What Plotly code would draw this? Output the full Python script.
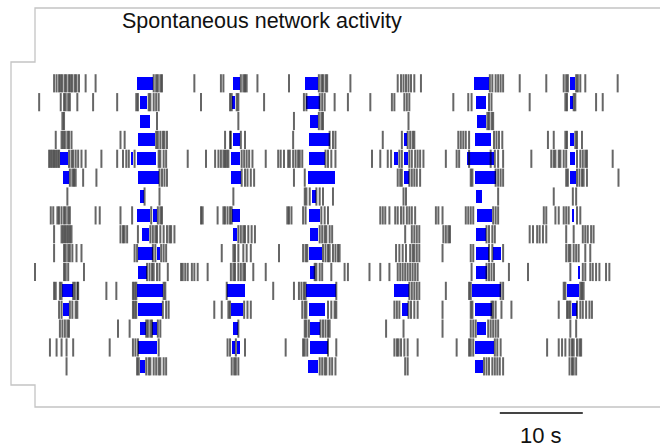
import plotly.graph_objects as go

# ---- spike times (s), one list per recorded cell, top row first ----
cell01_spikes = [2.3, 2.6, 2.9, 3.1, 3.3, 3.6, 3.8, 4.1, 4.3, 4.5, 4.8, 5.0, 5.3, 6.1, 7.3, 14.3, 14.6, 14.8, 15.1, 15.3,
                 19.2, 22.4, 22.7, 24.8, 25.1, 25.3, 25.5, 26.8, 30.6, 34.2, 34.5, 34.7, 35.0, 35.2, 38.0, 43.7, 44.1,
                 44.4, 44.7, 45.0, 45.3, 45.7, 46.5, 54.8, 55.1, 55.5, 55.8, 56.1, 56.4, 58.4, 61.6, 63.7, 64.0, 64.2,
                 65.2, 65.4, 65.7, 66.3, 70.2]
cell02_spikes = [0.5, 3.1, 3.5, 3.7, 4.0, 4.2, 5.1, 7.0, 9.9, 12.2, 12.4, 13.7, 13.9, 14.3, 14.6, 14.9, 20.0, 23.5, 23.7,
                 24.3, 24.5, 27.6, 32.4, 32.7, 34.3, 34.6, 34.9, 36.1, 37.7, 40.4, 43.0, 43.3, 44.5, 44.8, 45.1, 50.4,
                 52.2, 52.6, 54.7, 55.0, 59.6, 63.9, 64.1, 64.9, 65.1, 67.6, 68.4]
cell03_spikes = [3.3, 3.5, 14.7, 24.5, 31.2, 34.2, 34.5, 34.7, 45.0, 54.5, 54.7, 55.0, 55.2]
cell04_spikes = [2.5, 3.2, 3.4, 3.6, 3.9, 4.1, 4.4, 10.3, 10.8, 14.6, 14.8, 15.1, 15.4, 15.6, 15.9, 22.9, 23.5, 23.6,
                 24.8, 25.3, 31.1, 35.5, 35.9, 36.2, 41.9, 44.2, 44.9, 45.2, 45.5, 45.7, 51.0, 51.3, 51.6, 51.9, 52.3,
                 55.3, 55.6, 55.9, 56.3, 61.8, 62.5, 63.9, 64.1, 65.1, 65.3, 65.9]
cell05_spikes = [1.7, 1.9, 2.1, 2.3, 2.5, 2.7, 2.9, 4.1, 4.4, 4.6, 4.9, 5.2, 5.6, 6.1, 8.0, 9.9, 10.6, 11.0, 11.3, 12.0,
                 14.9, 15.1, 15.5, 15.8, 18.4, 20.6, 21.7, 22.1, 22.4, 22.7, 22.9, 23.1, 23.3, 24.9, 25.2, 25.5, 25.8,
                 26.2, 27.8, 29.3, 29.6, 30.0, 30.5, 30.7, 31.1, 31.4, 31.7, 31.9, 32.2, 35.0, 35.3, 35.7, 36.2, 40.6,
                 41.6, 42.5, 42.9, 43.9, 44.2, 45.1, 45.4, 45.8, 46.1, 46.4, 46.8, 49.5, 50.8, 51.1, 52.3, 54.9, 55.4,
                 55.8, 56.4, 59.8, 62.2, 62.5, 62.7, 63.1, 63.3, 63.7, 64.0, 65.3, 65.7, 66.0, 66.3, 66.5, 69.6]
cell06_spikes = [4.2, 4.5, 4.7, 4.9, 5.8, 7.4, 15.0, 15.3, 15.6, 15.9, 24.9, 25.3, 25.6, 26.0, 26.4, 31.2, 32.5, 43.7,
                 44.0, 44.2, 45.1, 45.4, 45.7, 46.0, 46.4, 52.5, 52.7, 55.5, 55.8, 56.1, 56.4, 64.0, 64.2, 65.3, 65.6,
                 65.9, 66.1, 66.5, 70.3]
cell07_spikes = [3.9, 13.2, 15.0, 23.9, 32.5, 32.7, 33.1, 33.9, 34.3, 34.7, 35.9, 44.4, 44.7, 55.8, 62.5, 64.8, 65.2]
cell08_spikes = [1.9, 2.2, 2.7, 2.9, 3.2, 3.5, 3.7, 4.0, 4.2, 7.3, 7.8, 10.3, 11.7, 14.0, 14.8, 15.1, 15.3, 20.0, 20.2,
                 22.0, 22.7, 22.9, 23.2, 23.5, 23.7, 30.4, 30.6, 30.9, 32.3, 32.6, 34.5, 34.9, 35.3, 41.6, 41.9, 42.2,
                 42.7, 43.4, 43.7, 44.1, 44.4, 44.8, 45.1, 45.4, 45.8, 48.3, 48.6, 49.1, 51.9, 52.2, 52.5, 52.8, 55.2,
                 55.5, 55.8, 61.3, 61.6, 62.7, 63.1, 63.7, 64.0, 64.3, 65.3, 65.7]
cell09_spikes = [2.3, 3.2, 3.4, 3.6, 3.8, 4.0, 4.2, 4.4, 10.3, 10.6, 10.8, 11.1, 12.4, 13.9, 14.2, 14.5, 14.7, 15.1,
                 15.5, 15.9, 16.2, 16.4, 16.8, 24.5, 24.8, 25.1, 25.3, 25.7, 26.1, 26.5, 34.3, 34.6, 34.9, 35.1, 35.5,
                 35.8, 44.6, 45.4, 45.7, 46.0, 46.3, 49.2, 49.5, 49.8, 50.0, 54.4, 54.7, 55.1, 55.4, 59.6, 60.0, 60.5,
                 60.8, 61.2, 61.6, 64.0, 64.9, 66.0, 66.3, 66.6, 67.0, 67.3]
cell10_spikes = [2.3, 3.5, 3.7, 4.0, 4.2, 4.5, 5.0, 5.6, 12.0, 12.3, 14.2, 14.5, 15.2, 15.5, 15.8, 22.5, 23.9, 24.1,
                 24.5, 25.1, 25.5, 26.0, 29.4, 32.3, 32.6, 32.8, 34.7, 35.0, 35.3, 35.5, 35.9, 36.2, 36.5, 36.7, 43.5,
                 43.9, 44.3, 44.7, 45.2, 45.5, 45.7, 46.0, 46.3, 49.1, 52.5, 52.8, 54.7, 55.1, 56.4, 64.0, 64.3, 64.5,
                 64.9, 65.2, 65.5, 66.3, 66.9]
cell11_spikes = [0.0, 3.5, 3.7, 4.0, 5.9, 13.5, 13.8, 14.1, 14.3, 14.7, 15.0, 16.0, 17.6, 17.8, 18.1, 18.4, 18.9, 19.2,
                 19.6, 20.8, 23.6, 23.9, 24.1, 24.5, 24.8, 25.1, 25.3, 26.3, 27.8, 33.7, 33.9, 34.3, 34.6, 35.7, 37.3,
                 37.7, 40.3, 41.6, 42.7, 43.7, 44.0, 44.3, 44.6, 44.9, 45.2, 45.5, 45.8, 46.1, 52.6, 54.4, 54.7, 55.0,
                 55.3, 57.1, 59.4, 64.5, 66.0, 66.3, 66.9, 67.2, 67.6, 68.0, 68.8, 69.2]
cell12_spikes = [2.3, 2.5, 3.0, 3.2, 4.6, 4.8, 5.1, 5.2, 8.6, 9.8, 11.8, 12.0, 12.2, 15.5, 15.7, 23.1, 28.7, 31.2, 31.8,
                 32.1, 32.4, 32.6, 36.3, 45.1, 45.4, 45.7, 46.0, 46.3, 49.5, 52.3, 52.5, 56.1, 56.4, 63.7, 63.9, 65.7,
                 65.9, 66.1]
cell13_spikes = [2.9, 3.2, 4.2, 4.5, 4.9, 5.1, 11.8, 12.0, 12.2, 15.4, 15.8, 16.1, 21.6, 22.5, 23.3, 23.5, 25.2, 25.6,
                 26.0, 32.2, 32.5, 32.7, 35.3, 35.7, 36.1, 36.3, 43.3, 43.6, 43.9, 45.0, 45.3, 45.7, 46.1, 49.1, 52.5,
                 52.7, 55.0, 55.2, 55.5, 56.2, 57.4, 63.1, 64.1, 64.3, 64.5, 65.3, 65.7, 66.0, 66.4, 66.8, 67.1]
cell14_spikes = [3.0, 3.3, 3.6, 3.9, 4.1, 10.0, 11.4, 13.4, 13.6, 13.9, 14.1, 14.8, 15.1, 24.5, 32.5, 32.7, 33.0, 34.4,
                 34.7, 35.0, 35.3, 35.5, 42.3, 44.4, 49.1, 52.5, 52.8, 53.1, 54.6, 54.9, 55.2, 55.5, 55.8, 64.5, 65.2]
cell15_spikes = [1.8, 2.6, 3.2, 3.8, 4.6, 9.0, 11.8, 12.1, 12.4, 14.9, 23.2, 23.5, 24.2, 25.3, 30.2, 32.3, 32.5, 32.8,
                 35.3, 36.3, 43.3, 43.6, 43.8, 44.1, 44.5, 44.9, 46.1, 50.8, 52.3, 52.5, 52.8, 55.4, 55.7, 56.1, 61.7,
                 63.1, 63.5, 63.9, 64.4, 64.7, 64.9, 65.3, 65.6, 65.8]
cell16_spikes = [3.8, 12.3, 12.5, 13.4, 13.7, 13.9, 14.3, 14.6, 14.9, 15.1, 15.5, 15.8, 23.7, 24.0, 24.2, 24.5, 34.3,
                 34.6, 34.9, 35.1, 35.5, 35.8, 36.2, 44.6, 44.9, 54.1, 54.4, 54.7, 55.1, 55.4, 55.7, 56.0, 56.4, 64.4,
                 64.7, 64.9, 65.2]

# ---- high-rate burst episodes (start s, end s), shown in blue ----
cell01_bursts = [(12.3, 14.2), (23.8, 24.7), (32.5, 34.1), (52.9, 54.7), (64.5, 65.1)]
cell02_bursts = [(12.7, 13.5), (23.7, 24.1), (32.7, 34.3), (53.1, 54.3), (64.4, 64.8)]
cell03_bursts = [(12.7, 13.8), (33.1, 34.1), (53.3, 54.3)]
cell04_bursts = [(12.4, 14.5), (23.8, 24.7), (33.0, 35.5), (44.4, 44.8), (53.0, 54.9), (64.4, 64.9)]
cell05_bursts = [(3.0, 4.0), (11.6, 11.8), (12.3, 14.6), (23.6, 24.7), (33.0, 34.9), (43.2, 43.7), (44.4, 44.9),
                 (52.1, 55.3), (64.4, 65.1)]
cell06_bursts = [(3.4, 4.1), (12.4, 14.9), (23.6, 24.8), (32.9, 36.2), (44.4, 45.0), (53.0, 55.5), (64.4, 65.2)]
cell07_bursts = [(12.7, 13.1), (33.4, 33.8), (53.1, 53.9)]
cell08_bursts = [(12.3, 13.9), (14.2, 14.7), (23.7, 24.7), (33.0, 34.3), (53.2, 55.0), (64.7, 64.9)]
cell09_bursts = [(12.9, 13.7), (23.9, 24.3), (33.1, 34.1), (53.1, 54.3)]
cell10_bursts = [(12.4, 14.2), (14.7, 15.1), (33.0, 34.6), (53.1, 54.7), (55.2, 56.2)]
cell11_bursts = [(12.4, 13.5), (33.1, 33.7), (53.1, 54.4), (65.5, 65.7)]
cell12_bursts = [(3.2, 4.6), (12.3, 15.4), (23.1, 25.3), (32.7, 36.3), (43.3, 45.0), (52.6, 56.1), (64.1, 65.6)]
cell13_bursts = [(3.4, 4.1), (12.4, 15.3), (23.6, 25.1), (33.0, 34.9), (44.2, 44.9), (53.0, 55.0), (64.7, 65.3)]
cell14_bursts = [(12.7, 13.4), (14.1, 14.7), (23.9, 24.5), (33.1, 34.3), (53.3, 54.3)]
cell15_bursts = [(12.4, 14.7), (23.7, 24.1), (24.3, 24.7), (33.1, 35.3), (53.0, 55.3)]
cell16_bursts = [(12.7, 13.3), (32.9, 34.1), (53.0, 54.0)]

spike_rows = [cell01_spikes, cell02_spikes, cell03_spikes, cell04_spikes, cell05_spikes, cell06_spikes,
              cell07_spikes, cell08_spikes, cell09_spikes, cell10_spikes, cell11_spikes, cell12_spikes,
              cell13_spikes, cell14_spikes, cell15_spikes, cell16_spikes]
burst_rows = [cell01_bursts, cell02_bursts, cell03_bursts, cell04_bursts, cell05_bursts, cell06_bursts,
              cell07_bursts, cell08_bursts, cell09_bursts, cell10_bursts, cell11_bursts, cell12_bursts,
              cell13_bursts, cell14_bursts, cell15_bursts, cell16_bursts]

TITLE = "Spontaneous network activity"
SCALE_BAR_START = 56.0   # s
SCALE_BAR_LENGTH = 10.0  # s
SCALE_BAR_LABEL = "10 s"
FONT = "Liberation Sans, Arial, Helvetica, sans-serif"

# ---- page geometry ----
W, H = 660, 448
PX_PER_S = 8.3
T_AT_LEFT = -35 / PX_PER_S           # time at the left page edge
ROW_PITCH = 18.87                    # px between rows
ROW1_PX = 83.3                       # vertical position of the first row
TICK_PX = 13                         # tick / block height in px
TICK_H = TICK_PX / ROW_PITCH


def row_at_px(py):
    return 1 + (py - ROW1_PX) / ROW_PITCH


fig = go.Figure()

# burst episodes as horizontal blue blocks
b_y, b_base, b_len = [], [], []
for r, bursts in enumerate(burst_rows, start=1):
    for t0, t1 in bursts:
        b_y.append(r)
        b_base.append(t0)
        b_len.append(t1 - t0)
fig.add_trace(go.Bar(
    y=b_y, x=b_len, base=b_base, orientation="h", width=TICK_H,
    marker=dict(color="#0000ff", line=dict(width=0)), hoverinfo="skip", showlegend=False,
))

# individual spikes as short vertical ticks
s_x, s_y = [], []
for r, spikes in enumerate(spike_rows, start=1):
    s_x.extend(spikes)
    s_y.extend([r] * len(spikes))
fig.add_trace(go.Scatter(
    x=s_x, y=s_y, mode="markers",
    marker=dict(symbol="line-ns", size=TICK_PX,
                line=dict(width=2, color="rgba(0,0,0,0.6)")),
    hoverinfo="skip", showlegend=False,
))

# stepped outline around the panel (page pixels -> paper coords)
outline_px = [(660, 8), (35, 8), (35, 62), (11, 62), (11, 385), (35, 385), (35, 407), (660, 407)]
path = "M " + " L ".join(f"{x / W:.5f},{1 - y / H:.5f}" for x, y in outline_px)
fig.add_shape(type="path", path=path, xref="paper", yref="paper",
              line=dict(color="#c4c4c4", width=1.3))

# time scale bar
bar_row = row_at_px(413)
fig.add_shape(type="line", xref="x", yref="y",
              x0=SCALE_BAR_START, x1=SCALE_BAR_START + SCALE_BAR_LENGTH, y0=bar_row, y1=bar_row,
              line=dict(color="#444444", width=2))
fig.add_annotation(x=SCALE_BAR_START + SCALE_BAR_LENGTH / 2, y=row_at_px(435), xref="x", yref="y",
                   text=SCALE_BAR_LABEL, showarrow=False, xanchor="center", yanchor="middle",
                   font=dict(family=FONT, size=22, color="#111111"))

fig.add_annotation(x=261.5 / W, y=1 - 21 / H, xref="paper", yref="paper",
                   text=TITLE, showarrow=False, xanchor="center", yanchor="middle",
                   font=dict(family=FONT, size=21.5, color="#111111"))

fig.update_layout(
    width=W, height=H, margin=dict(l=0, r=0, t=0, b=0, pad=0),
    paper_bgcolor="white", plot_bgcolor="white", barmode="overlay", bargap=0,
    xaxis=dict(range=[T_AT_LEFT, T_AT_LEFT + W / PX_PER_S], visible=False, fixedrange=True),
    yaxis=dict(range=[row_at_px(H), row_at_px(0)], visible=False, fixedrange=True),
)

fig.write_html("out.html")
